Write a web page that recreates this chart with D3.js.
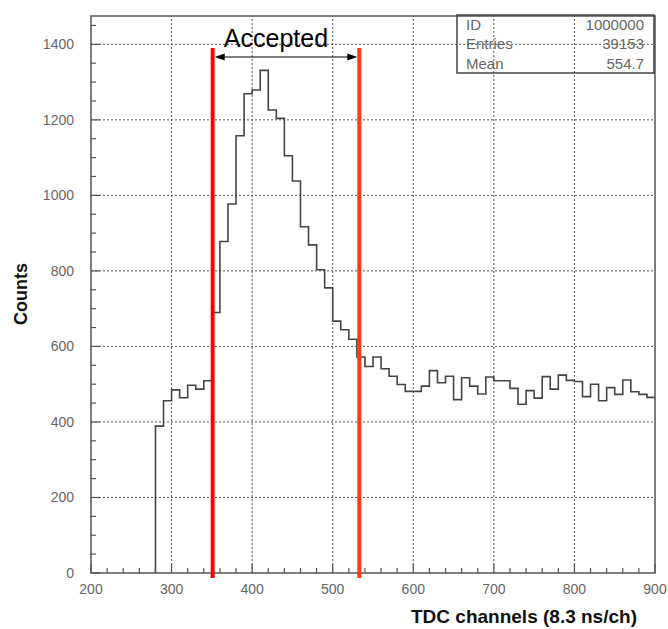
<!DOCTYPE html>
<html>
<head>
<meta charset="utf-8">
<script src="https://cdn.jsdelivr.net/npm/d3@7"></script>
<style>
  html, body { margin: 0; padding: 0; background: #fff; }
  svg { display: block; font-family: "Liberation Sans", Arial, Helvetica, sans-serif; }
</style>
</head>
<body>
<svg id="chart" width="668" height="629"></svg>
<script>
// TDC histogram: 10-channel bins starting at channel 280
const binStart = 280;
const binWidth = 10;
const counts = [
  389, 456, 485, 464, 497, 487, 509,
  690, 878, 977, 1158, 1269, 1279, 1331, 1226, 1204, 1105, 1038, 917, 869, 803, 755,
  667, 644, 619, 572, 547, 572, 541, 521, 499, 481,
  481, 495, 536, 504, 521, 459, 517, 495, 474, 519,
  509, 509, 489, 447, 483, 463, 520, 487, 524, 510,
  507, 467, 500, 456, 491, 473, 511, 480, 473, 465
];

// Acceptance window (channels)
const cuts = [351, 533];
const cutColors = ["#ff0000", "#ff3a14"];

// Axis ticks
const xMajor = [200, 300, 400, 500, 600, 700, 800, 900];
const yMajor = [0, 200, 400, 600, 800, 1000, 1200, 1400];

// Statistics box
const statLabels = ["ID", "Entries", "Mean"];
const statValues = ["1000000", "39153", "554.7"];

const svg = d3.select("#chart");
const x = d3.scaleLinear().domain([200, 900]).range([91, 655]);
const y = d3.scaleLinear().domain([0, 1475]).range([573, 16]);
const [x0, x1] = x.range();
const [yb, yt] = y.range();

// Dotted grid at the major ticks
const grid = svg.append("g").attr("stroke", "#555").attr("stroke-width", 1)
  .attr("stroke-dasharray", "2,2");
grid.selectAll(".gx").data(xMajor.slice(1, -1)).join("line")
  .attr("x1", d => x(d)).attr("x2", d => x(d)).attr("y1", yb).attr("y2", yt);
grid.selectAll(".gy").data(yMajor.slice(1)).join("line")
  .attr("x1", x0).attr("x2", x1).attr("y1", d => y(d)).attr("y2", d => y(d));

// Histogram outline as a step path
const pts = [[x(binStart), y(0)]];
counts.forEach((c, i) => {
  const a = binStart + i * binWidth;
  pts.push([x(a), y(c)], [x(a + binWidth), y(c)]);
});
svg.append("path")
  .attr("d", d3.line()(pts))
  .attr("fill", "none").attr("stroke", "#444").attr("stroke-width", 1.6);

// Frame
svg.append("rect")
  .attr("x", x0).attr("y", yt).attr("width", x1 - x0).attr("height", yb - yt)
  .attr("fill", "none").attr("stroke", "#555").attr("stroke-width", 1.5);

// Inward ticks
const ticks = svg.append("g").attr("stroke", "#555").attr("stroke-width", 1.2);
const xMinor = d3.range(220, 900, 20).filter(v => v % 100 !== 0);
ticks.selectAll(".tx").data(xMinor).join("line")
  .attr("x1", d => x(d)).attr("x2", d => x(d)).attr("y1", yb).attr("y2", yb - 5);
ticks.selectAll(".txm").data(xMajor).join("line")
  .attr("x1", d => x(d)).attr("x2", d => x(d)).attr("y1", yb).attr("y2", yb - 9);
const yMinor = d3.range(50, 1475, 50).filter(v => v % 200 !== 0);
ticks.selectAll(".ty").data(yMinor).join("line")
  .attr("x1", x0).attr("x2", x0 + 5).attr("y1", d => y(d)).attr("y2", d => y(d));
ticks.selectAll(".tym").data(yMajor).join("line")
  .attr("x1", x0).attr("x2", x0 + 9).attr("y1", d => y(d)).attr("y2", d => y(d));

// Tick labels
svg.append("g").attr("fill", "#666").attr("font-size", 14)
  .selectAll("text").data(xMajor).join("text")
  .attr("x", d => x(d)).attr("y", 594).attr("text-anchor", "middle").text(d => d);
svg.append("g").attr("fill", "#666").attr("font-size", 14)
  .selectAll("text").data(yMajor).join("text")
  .attr("x", 74).attr("y", d => y(d) + 5).attr("text-anchor", "end").text(d => d);

// Axis titles
svg.append("text")
  .attr("x", 524).attr("y", 623).attr("text-anchor", "middle")
  .attr("font-size", 19).attr("font-weight", "bold").attr("fill", "#111")
  .text("TDC channels (8.3 ns/ch)");
svg.append("text")
  .attr("transform", "translate(27,294) rotate(-90)").attr("text-anchor", "middle")
  .attr("font-size", 18).attr("font-weight", "bold").attr("fill", "#111")
  .text("Counts");

// Acceptance window lines
svg.selectAll(".cut").data(cuts).join("line")
  .attr("x1", d => x(d)).attr("x2", d => x(d)).attr("y1", 48).attr("y2", 578)
  .attr("stroke", (d, i) => cutColors[i]).attr("stroke-width", 4);

// Double-headed arrow and label
const ay = 57;
const ax0 = x(cuts[0]) + 2, ax1 = x(cuts[1]) - 2;
svg.append("line").attr("x1", ax0 + 6).attr("x2", ax1 - 6).attr("y1", ay).attr("y2", ay)
  .attr("stroke", "#000").attr("stroke-width", 1.2);
svg.append("path").attr("d", `M${ax0},${ay} L${ax0 + 10},${ay - 3.5} L${ax0 + 10},${ay + 3.5} Z`).attr("fill", "#000");
svg.append("path").attr("d", `M${ax1},${ay} L${ax1 - 10},${ay - 3.5} L${ax1 - 10},${ay + 3.5} Z`).attr("fill", "#000");
svg.append("text")
  .attr("x", (x(cuts[0]) + x(cuts[1])) / 2 - 10).attr("y", 47).attr("text-anchor", "middle")
  .attr("font-size", 25).attr("fill", "#000").text("Accepted");

// Statistics box
const bx0 = 457, bx1 = 654, by0 = 15, by1 = 73;
svg.append("rect").attr("x", bx0).attr("y", by0).attr("width", bx1 - bx0).attr("height", by1 - by0)
  .attr("fill", "none").attr("stroke", "#444").attr("stroke-width", 1.5);
const st = svg.append("g").attr("fill", "#666").attr("font-size", 15);
st.selectAll(".sl").data(statLabels).join("text")
  .attr("x", 466).attr("y", (d, i) => 29.5 + i * 19.5).text(d => d);
st.selectAll(".sv").data(statValues).join("text")
  .attr("x", 644).attr("y", (d, i) => 29.5 + i * 19.5).attr("text-anchor", "end").text(d => d);
</script>
</body>
</html>
